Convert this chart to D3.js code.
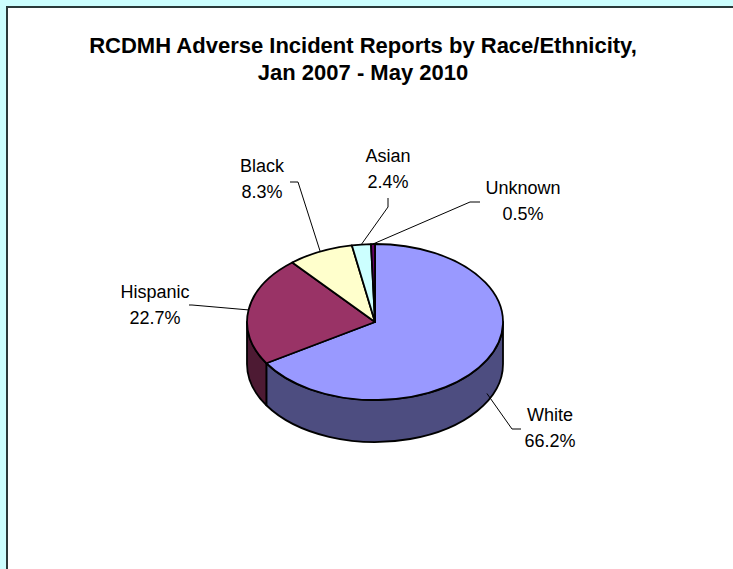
<!DOCTYPE html>
<html>
<head>
<meta charset="utf-8">
<script src="https://cdn.jsdelivr.net/npm/d3@7"></script>
<style>
  html, body { margin: 0; padding: 0; background: #CCFFFF; }
  svg { display: block; }
</style>
</head>
<body>
<svg id="chart" width="733" height="569"></svg>
<script>
// ---- data ----
const categories = ["White", "Hispanic", "Black", "Asian", "Unknown"];
const values = [66.2, 22.7, 8.3, 2.4, 0.5];
const valueLabels = ["66.2%", "22.7%", "8.3%", "2.4%", "0.5%"];
const titleLines = ["RCDMH Adverse Incident Reports by Race/Ethnicity,", "Jan 2007 - May 2010"];

// ---- styles / layout ----
const topColors = ["#9999FF", "#993366", "#FFFFCC", "#CCFFFF", "#660066"];
const sideColors = ["#4D4D80", "#4D1A33", "#80806A", "#668080", "#330033"];
const labelPos = {            // label centre of first line + leader tick
  White:    { x: 550, y: 414, tick: [[521, 429], [512, 429]] },
  Hispanic: { x: 155, y: 291, tick: [[189, 305], [192, 305]] },
  Black:    { x: 262, y: 165, tick: [[290, 182], [298, 182]] },
  Asian:    { x: 388, y: 155, tick: [[388, 198], [388, 207]] },
  Unknown:  { x: 523, y: 187, tick: [[480, 202], [470, 202]] }
};

const W = 733, H = 569;
const cx = 375, cy = 322, rx = 128, ry = 78, depth = 42;

const svg = d3.select("#chart");

// panel
svg.append("rect").attr("x", 0).attr("y", 0).attr("width", W).attr("height", H).attr("fill", "#CCFFFF");
svg.append("rect").attr("x", 7).attr("y", 7).attr("width", W + 10).attr("height", H + 10)
  .attr("fill", "#FFFFFF").attr("stroke", "#2B3A3A").attr("stroke-width", 2);

// title
const title = svg.append("text").attr("text-anchor", "middle")
  .attr("font-family", "Liberation Sans, Arial, sans-serif").attr("font-weight", "bold")
  .attr("font-size", 22).attr("fill", "#000");
titleLines.forEach((t, i) => {
  title.append("tspan").attr("x", 363).attr("y", 53 + i * 27).text(t);
});

// pie angles
const pie = d3.pie().sort(null).value(d => d).startAngle(0).endAngle(2 * Math.PI);
const arcs = pie(values).map((a, i) => ({ ...a, i, name: categories[i] }));

const pt = (a, dy = 0) => [cx + rx * Math.sin(a), cy - ry * Math.cos(a) + dy];

function topPath(a0, a1) {
  const p0 = pt(a0), p1 = pt(a1);
  const large = (a1 - a0) > Math.PI ? 1 : 0;
  return `M${cx},${cy}L${p0[0]},${p0[1]}A${rx},${ry} 0 ${large} 1 ${p1[0]},${p1[1]}Z`;
}
function sidePath(a0, a1) {
  const s = Math.max(a0, Math.PI / 2), e = Math.min(a1, 3 * Math.PI / 2);
  if (e <= s) return null;
  const p0 = pt(s), p1 = pt(e), q1 = pt(e, depth), q0 = pt(s, depth);
  const large = (e - s) > Math.PI ? 1 : 0;
  return `M${p0[0]},${p0[1]}A${rx},${ry} 0 ${large} 1 ${p1[0]},${p1[1]}` +
         `L${q1[0]},${q1[1]}A${rx},${ry} 0 ${large} 0 ${q0[0]},${q0[1]}Z`;
}

const g = svg.append("g");
arcs.forEach(a => {
  const d = sidePath(a.startAngle, a.endAngle);
  if (d) g.append("path").attr("d", d).attr("fill", sideColors[a.i])
    .attr("stroke", "#000").attr("stroke-width", 1.8).attr("stroke-linejoin", "round");
});
arcs.forEach(a => {
  g.append("path").attr("d", topPath(a.startAngle, a.endAngle)).attr("fill", topColors[a.i])
    .attr("stroke", "#000").attr("stroke-width", 1.8).attr("stroke-linejoin", "round");
});

// leader lines and labels
const lab = svg.append("g").attr("font-family", "Liberation Sans, Arial, sans-serif")
  .attr("font-size", 18).attr("fill", "#000").attr("text-anchor", "middle");
arcs.forEach(a => {
  const mid = (a.startAngle + a.endAngle) / 2;
  const front = mid > Math.PI / 2 && mid < 3 * Math.PI / 2;
  const end = pt(mid, front ? depth * 0.8 : 0);
  const lp = labelPos[a.name];
  const pts = [lp.tick[0], lp.tick[1], end];
  svg.append("path").attr("d", d3.line()(pts)).attr("fill", "none")
    .attr("stroke", "#000").attr("stroke-width", 1);
  lab.append("text").attr("x", lp.x).attr("y", lp.y + 6.5).text(a.name);
  lab.append("text").attr("x", lp.x).attr("y", lp.y + 33).text(valueLabels[a.i]);
});
</script>
</body>
</html>
